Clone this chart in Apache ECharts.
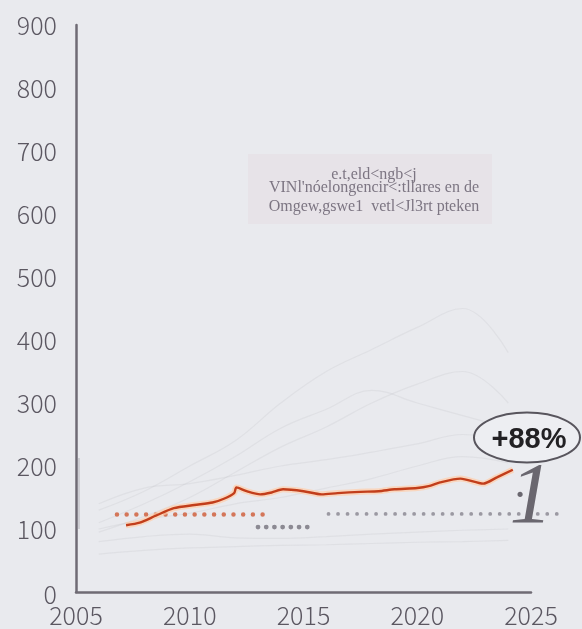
<!DOCTYPE html>
<html><head><meta charset="utf-8">
<script src="https://cdn.jsdelivr.net/npm/echarts@6/dist/echarts.min.js"></script>
<style>html,body{margin:0;padding:0;background:#e9eaee}#c{width:582px;height:629px}</style>
</head><body><div id="c"></div><script>
// X axis ticks / Y axis ticks
const xTicks = [2005, 2010, 2015, 2020, 2025];
const yTicks = [0, 100, 200, 300, 400, 500, 600, 700, 800, 900];

// Main (highlighted) series
const trendYears  = [2007.2, 2007.8, 2008.5, 2009.3, 2010.2, 2011.0, 2011.5, 2011.95, 2012.05, 2012.5, 2013.1, 2013.6, 2014.1, 2015.0, 2015.8, 2016.5, 2017.5, 2018.3, 2019.0, 2020.0, 2020.5, 2021.0, 2021.9, 2022.9, 2023.5, 2024.2];
const trendValues = [106, 110, 121, 133, 138, 142, 148, 157, 166, 160, 155, 158, 163, 160, 155, 157, 159, 160, 163, 165, 168, 174, 180, 172, 182, 194];

// Dotted reference levels
const orangeRefYears = [2006.8, 2013.3];
const orangeRefValue = 123;
const grayShortYears = [2013.0, 2015.2];
const grayShortValue = 103;
const grayLongYears  = [2016.1, 2026.5];
const grayLongValue  = 124;

// Faint background lines (approximate)
const bgYears = [2006, 2008, 2010, 2012, 2014, 2016, 2018, 2020, 2022, 2024];
const bg1 = [95, 120, 150, 190, 230, 262, 300, 330, 350, 300];
const bg2 = [130, 160, 200, 240, 300, 350, 385, 420, 450, 380];
const bg3 = [80, 88, 92, 86, 85, 88, 92, 95, 98, 100];
const bg4 = [60, 66, 70, 72, 74, 75, 77, 79, 80, 82];
const bg5 = [140, 165, 172, 185, 200, 210, 222, 235, 250, 240];
const bg6 = [110, 140, 175, 215, 260, 290, 320, 300, 280, 260];
const bg7 = [100, 115, 125, 140, 150, 165, 180, 200, 215, 205];

const labelText = ['e.t,eld<ngb<j', "VINl'nóelongencir<:tllares en de", 'Omgew,gswe1  vetl<Jl3rt pteken'];
const badge = '+88%';

const zip = (xs, ys) => xs.map((x, i) => [x, ys[i]]);
const flat = (xs, v) => xs.map(x => [x, v]);

const axisFont = {fontFamily: 'Noto Sans CJK JP', fontSize: 25, fontWeight: 300, color: '#5b5761'};
const bgLine = (d) => ({type: 'line', data: zip(bgYears, d), smooth: 0.4, symbol: 'none', silent: true,
  lineStyle: {color: 'rgba(175,173,183,0.16)', width: 1.2}, z: 1});

const chart = echarts.init(document.getElementById('c'));
chart.setOption({
  backgroundColor: '#e9eaee',
  animation: false,
  grid: [
    {left: 76, right: 51, top: 25, bottom: 37, containLabel: false},
    {left: 76, right: 5.5, top: 25, bottom: 37, containLabel: false}
  ],
  xAxis: [{
    type: 'value', gridIndex: 0, min: xTicks[0], max: xTicks[xTicks.length - 1], interval: 5,
    axisLine: {show: true, lineStyle: {color: '#6f6b74', width: 2.5}},
    axisTick: {show: false}, splitLine: {show: false},
    axisLabel: Object.assign({margin: 11, formatter: v => String(v)}, axisFont)
  }, {
    type: 'value', gridIndex: 1, min: 2005, max: 2027, show: false
  }],
  yAxis: [{
    type: 'value', gridIndex: 0, min: yTicks[0], max: yTicks[yTicks.length - 1], interval: 100,
    axisLine: {show: true, lineStyle: {color: '#6f6b74', width: 2.5}},
    axisTick: {show: false}, splitLine: {show: false},
    axisLabel: Object.assign({margin: 19,
      formatter: v => v === 0 ? '{z|0}' : String(v),
      rich: {z: {fontFamily: 'Noto Sans CJK JP', fontSize: 25, color: '#5b5761', padding: [4, 0, 0, 0]}}
    }, axisFont)
  }, {
    type: 'value', gridIndex: 1, min: 0, max: 900, show: false
  }],
  series: [
    bgLine(bg1), bgLine(bg2), bgLine(bg3), bgLine(bg4), bgLine(bg5), bgLine(bg6), bgLine(bg7),
    {type: 'line', data: flat(orangeRefYears, orangeRefValue), symbol: 'none', clip: false, z: 3,
     lineStyle: {color: '#d47659', width: 4.5, type: [0.01, 9.7], cap: 'round'}},
    {type: 'line', data: flat(grayShortYears, grayShortValue), symbol: 'none', clip: false, z: 3,
     lineStyle: {color: '#8c8a93', width: 4.8, type: [0.01, 8.2], cap: 'round'}},
    {type: 'line', xAxisIndex: 1, yAxisIndex: 1, data: flat(grayLongYears, grayLongValue), symbol: 'none', clip: false, z: 3,
     lineStyle: {color: '#9b99a2', width: 3.8, type: [0.01, 9.5], cap: 'round'}},
    {type: 'line', data: zip(trendYears, trendValues), symbol: 'none', smooth: 0.25, z: 4,
     lineStyle: {color: 'rgba(255,205,170,0.7)', width: 6}},
    {type: 'line', data: zip(trendYears, trendValues), symbol: 'none', smooth: 0.25, z: 5,
     lineStyle: {color: '#c23e1b', width: 2.4}}
  ],
  graphic: [
    {type: 'rect', shape: {x: 248, y: 154, width: 244, height: 70}, silent: true, z: 0,
     style: {fill: 'rgba(228,210,218,0.28)'}},
    {type: 'text', x: 374, y: 175, silent: true, style: {text: labelText[0], font: '16px "Liberation Serif"', fill: '#7c7582', align: 'center', verticalAlign: 'middle'}},
    {type: 'text', x: 374, y: 188, silent: true, style: {text: labelText[1], font: '16px "Liberation Serif"', fill: '#7c7582', align: 'center', verticalAlign: 'middle'}},
    {type: 'text', x: 374, y: 207, silent: true, style: {text: labelText[2], font: '16px "Liberation Serif"', fill: '#7c7582', align: 'center', verticalAlign: 'middle'}},
    {type: 'line', shape: {x1: 79, y1: 458, x2: 79, y2: 529}, silent: true, style: {stroke: 'rgba(120,116,126,0.4)', lineWidth: 1.2}},
    {type: 'ellipse', shape: {cx: 527, cy: 437.5, rx: 53, ry: 25}, silent: true, z: 10,
     style: {fill: '#edeef2', stroke: '#58555d', lineWidth: 2}},
    {type: 'text', x: 529, y: 440, silent: true, z: 11, style: {text: badge, font: 'bold 29px "Liberation Sans"', fill: '#222124', align: 'center', verticalAlign: 'middle'}},
    {type: 'text', x: 520, y: 497, silent: true, z: 11, style: {text: '·', font: 'bold 32px "Liberation Serif"', fill: '#6a676f', align: 'center', verticalAlign: 'middle'}},
    {type: 'text', x: 531, y: 499, silent: true, z: 11, style: {text: '1', font: 'italic 86px "Liberation Serif"', fill: '#6a676f', align: 'center', verticalAlign: 'middle'}}
  ]
});
</script></body></html>
